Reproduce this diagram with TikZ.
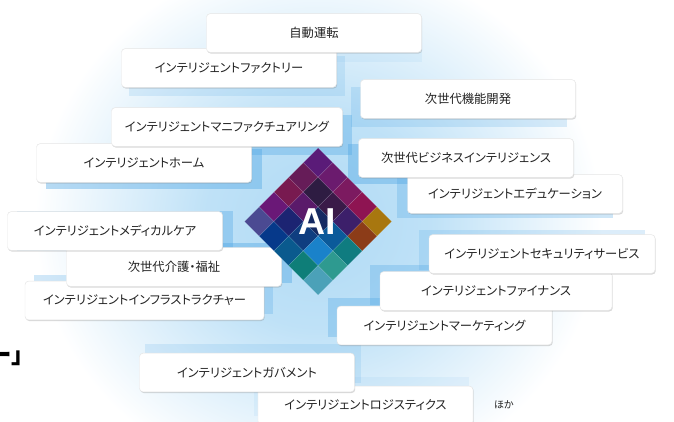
\documentclass[tikz,border=0pt]{standalone}
\usepackage{fontspec}
\setmainfont{Noto Sans CJK JP}[RawFeature=+palt]
\newfontfamily\aifont{Liberation Sans}
\usetikzlibrary{calc,shadows,backgrounds}
\definecolor{glow}{HTML}{AFDAF5}
\definecolor{halo}{HTML}{4FA6E4}
\definecolor{ink}{HTML}{222222}
\pgfdeclareradialshading{aiglow}{\pgfpoint{0cm}{0cm}}{color(0bp)=(glow); color(10bp)=(glow!80!white);
  color(25bp)=(white); color(50bp)=(white)}

\begin{document}
\begin{tikzpicture}[x=0.03cm, y=-0.03cm,
    tag/.style={draw=black!10, fill=white, rounded corners=3pt,
                minimum width=6.45cm, minimum height=1.16cm, inner sep=0pt,
                font=\fontsize{10.5}{12}\selectfont, text=ink,
                drop shadow={opacity=0.3, shadow xshift=0.6pt, shadow yshift=-1pt}}
  ]
  \useasboundingbox (0,0) rectangle (674,421);

  % tags, lower ones first
  \node[tag] (logistics) at (365.5,405.5) {インテリジェントロジスティクス};
  \node[tag] (government) at (247,372.5) {インテリジェントガバメント};
  \node[tag] (marketing) at (444.5,325.5) {インテリジェントマーケティング};
  \node[tag, minimum width=6.96cm] (finance) at (496,291) {インテリジェントファイナンス};
  \node[tag, minimum width=6.78cm] (security) at (542,254) {インテリジェントセキュリティサービス};
  \node[tag, minimum width=7.17cm] (infra) at (144.5,300.5) {インテリジェントインフラストラクチャー};
  \node[tag] (care) at (174,267) {次世代介護・福祉};
  \node[tag] (medical) at (115,231) {インテリジェントメディカルケア};
  \node[tag] (education) at (515,194) {インテリジェントエデュケーション};
  \node[tag] (business) at (466,158) {次世代ビジネスインテリジェンス};
  \node[tag] (home) at (144,163) {インテリジェントホーム};
  \node[tag, minimum width=6.93cm] (manufacturing) at (227,127) {インテリジェントマニファクチュアリング};
  \node[tag] (development) at (468,99) {次世代機能開発};
  \node[tag] (factory) at (229,68) {インテリジェントファクトリー};
  \node[tag] (driving) at (314,33) {自動運転};

  \node[anchor=west, text=ink] (others) at (490,405) {\fontsize{8.5}{10}\selectfont ほか};
  \node[anchor=base west, inner sep=0pt, text=black] (cut) at (-11,363)
    {\fontsize{20}{20}\selectfont\bfseries ー」};

  % glow, and halos pushed towards the middle
  \begin{scope}[on background layer]
    \shade[shading=aiglow] (318,222) ellipse [x radius=8.5cm, y radius=8cm];
    \foreach \n/\dx/\dy/\o in {driving/0/9/0.08, factory/8/8/0.16, development/-9/8/0.2,
                               manufacturing/9/8/0.35, home/10/6/0.4, business/-10/6/0.4,
                               education/-10/4/0.28, medical/10/0/0.35, care/10/-4/0.4,
                               infra/9/-6/0.26, security/-10/-4/0.2, finance/-10/-6/0.3,
                               marketing/-9/-8/0.32, government/6/-9/0.16, logistics/-4/-9/0.08}
      \fill[halo, opacity=\o] ($(\n.south west)+(\dx,\dy)$) rectangle ($(\n.north east)+(\dx,\dy)$);
  \end{scope}

  % AI diamond, 5x5 cells
  \def\d{14.7}
  \foreach \i/\j/\col in {0/0/5A1B78, 1/0/6B1B6E, 0/1/661C58, 2/0/7C1A60, 1/1/2E1C42,
                          0/2/781A50, 3/0/8E1452, 2/1/3A1A48, 1/2/5A1A6A, 0/3/6A1877,
                          4/0/A8770F, 3/1/3C1F6A, 2/2/152A62, 1/3/1C2472, 0/4/4B4A92,
                          4/1/8C3C18, 3/2/0B5A9A, 2/3/0F3E80, 1/4/06398A, 4/2/0F7C80,
                          3/3/1A82CA, 2/4/0A5A8E, 4/3/2E9A90, 3/4/0E7E78, 4/4/4BA1B8}{
    \definecolor{cell}{HTML}{\col}
    \coordinate (c) at ({318+(\i-\j)*\d}, {148+(\i+\j+1)*\d});
    \fill[cell, draw=white, draw opacity=0.2, line width=0.3pt]
      ($(c)+(0,-\d)$) -- ($(c)+(\d,0)$) -- ($(c)+(0,\d)$) -- ($(c)+(-\d,0)$) -- cycle;
  }
  \node[text=white, font=\aifont\bfseries\fontsize{32}{32}\selectfont] (ai) at (317,222) {AI};
\end{tikzpicture}
\end{document}
